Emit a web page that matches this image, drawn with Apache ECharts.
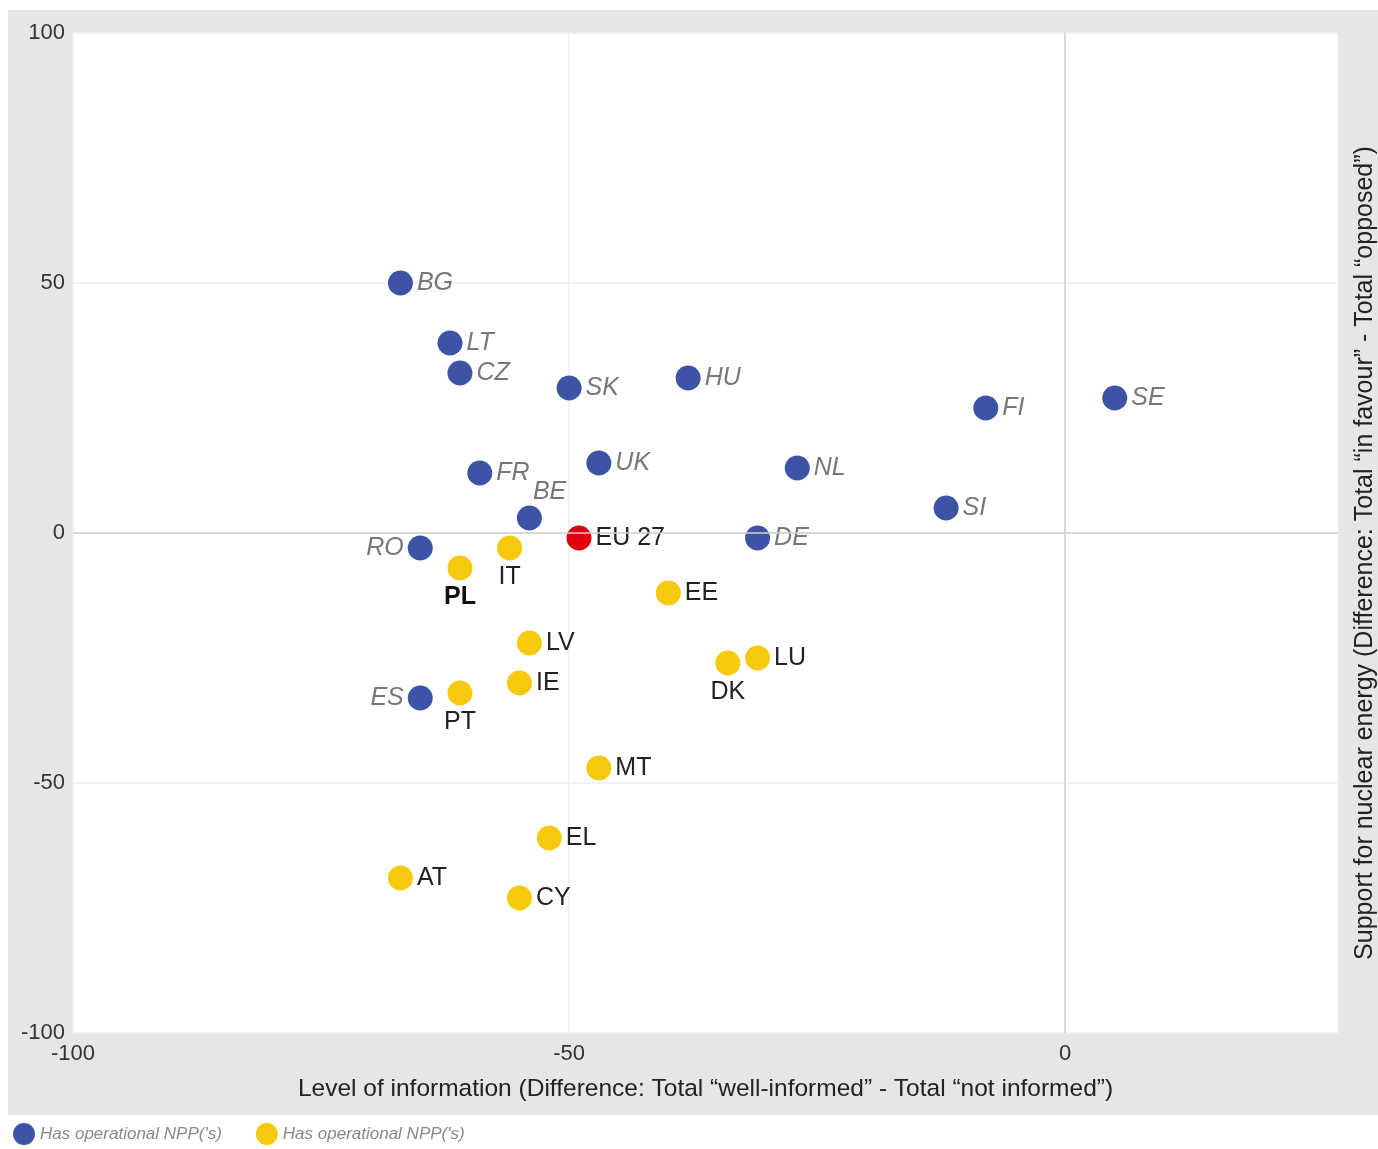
<!DOCTYPE html>
<html><head><meta charset="utf-8">
<style>html,body{margin:0;padding:0;background:#fff}#c{width:1378px;height:1149px}</style>
<script src="https://cdn.jsdelivr.net/npm/echarts@6/dist/echarts.min.js"></script>
</head><body><div id="c"></div>
<script>
// Countries with operational NPPs (blue)
const nppNames = ['BG','LT','CZ','SK','HU','FI','SE','FR','UK','NL','SI','BE','DE','RO','ES'];
const nppInfo  = [-67,-62,-61,-50,-38,-8,5,-59,-47,-27,-12,-54,-31,-65,-65];
const nppSupport = [50,38,32,29,31,25,27,12,14,13,5,3,-1,-3,-33];
// Countries without operational NPPs (yellow)
const noNames = ['IT','PL','EE','LV','LU','DK','IE','PT','MT','EL','AT','CY'];
const noInfo  = [-56,-61,-40,-54,-31,-34,-55,-61,-47,-52,-67,-55];
const noSupport = [-3,-7,-12,-22,-25,-26,-30,-32,-47,-61,-69,-73];
// EU average
const euNames = ['EU 27'];
const euInfo = [-49];
const euSupport = [-1];
const xTicks = [-100,-50,0];
const yTicks = [-100,-50,0,50,100];
const legendLabels = ["Has operational NPP('s)", "Has operational NPP('s)"];

const labelPos = {BE:'topRight', RO:'left', ES:'left', IT:'bottom', PL:'bottom', DK:'bottom', PT:'bottom'};
const FONT = '"Liberation Sans Narrow","Liberation Sans",Arial,sans-serif';

function mk(names, xs, ys){
  return names.map((n,i)=>{
    const p = labelPos[n] || 'right';
    const lab = {position: p === 'topRight' ? [16,-26] : p, distance: 4};
    if (n==='PL') { lab.fontWeight='bold'; lab.color='#111'; }
    return {name:n, value:[xs[i], ys[i]], label: lab};
  });
}

const chart = echarts.init(document.getElementById('c'), null, {renderer:'canvas'});
chart.setOption({
  backgroundColor:'#fff',
  animation:false,
  graphic:[
    {type:'rect', z:-10, shape:{x:8,y:10,width:1370,height:1105}, style:{fill:'#e6e6e6'}},
    {type:'text', z:10, x:1365, y:553, rotation:Math.PI/2,
     style:{text:'Support for nuclear energy (Difference: Total \u201cin favour\u201d - Total \u201copposed\u201d)',
            font:'25px '+FONT, fill:'#222', align:'center', verticalAlign:'middle'}}
  ],
  grid:{left:73,right:40,top:33,bottom:116,show:true,backgroundColor:'#fff',borderWidth:0},
  legend:{
    left:8, top:1121, padding:[2,5,2,5], itemWidth:22, itemHeight:22, itemGap:34,
    data:[{name:'npp',icon:'circle'},{name:'nonpp',icon:'circle'}],
    formatter:function(n){return n==='npp'?legendLabels[0]:legendLabels[1];},
    textStyle:{fontFamily:FONT,fontSize:17,fontStyle:'italic',color:'#888'}
  },
  xAxis:{
    type:'value', min:-100, max:27.5, interval:50,
    name:'Level of information (Difference: Total \u201cwell-informed\u201d - Total \u201cnot informed\u201d)',
    nameLocation:'middle', nameGap:44,
    nameTextStyle:{fontFamily:FONT,fontSize:24.5,color:'#222'},
    axisLine:{show:false}, axisTick:{show:false},
    axisLabel:{fontFamily:FONT,fontSize:22,color:'#333',margin:10,
      formatter:v=>xTicks.indexOf(v)>=0?String(v):''},
    splitLine:{lineStyle:{color:'#efefef',width:1.5}}
  },
  yAxis:{
    type:'value', min:-100, max:100, interval:50,
    axisLine:{show:false}, axisTick:{show:false},
    axisLabel:{fontFamily:FONT,fontSize:22,color:'#333',margin:8,
      formatter:v=>yTicks.indexOf(v)>=0?String(v):''},
    splitLine:{lineStyle:{color:'#efefef',width:1.5}}
  },
  series:[
    {name:'npp', type:'scatter', symbolSize:25, z:3,
     itemStyle:{color:'#3d54a6',opacity:1},
     label:{show:true, formatter:'{b}', fontFamily:FONT, fontSize:25, fontStyle:'italic', color:'#777'},
     data: mk(nppNames,nppInfo,nppSupport),
     markLine:{silent:true, symbol:'none', label:{show:false},
       lineStyle:{color:'#cfcfcf',width:1.5,type:'solid'},
       data:[{xAxis:0},{yAxis:0}]}
    },
    {name:'nonpp', type:'scatter', symbolSize:25, z:3,
     itemStyle:{color:'#f7c90d',opacity:1},
     label:{show:true, formatter:'{b}', fontFamily:FONT, fontSize:25, color:'#222'},
     data: mk(noNames,noInfo,noSupport)
    },
    {name:'eu', type:'scatter', symbolSize:25, z:4,
     itemStyle:{color:'#e00010',opacity:1},
     label:{show:true, formatter:'{b}', fontFamily:FONT, fontSize:25, color:'#222'},
     data: mk(euNames,euInfo,euSupport)
    }
  ]
});
</script></body></html>
